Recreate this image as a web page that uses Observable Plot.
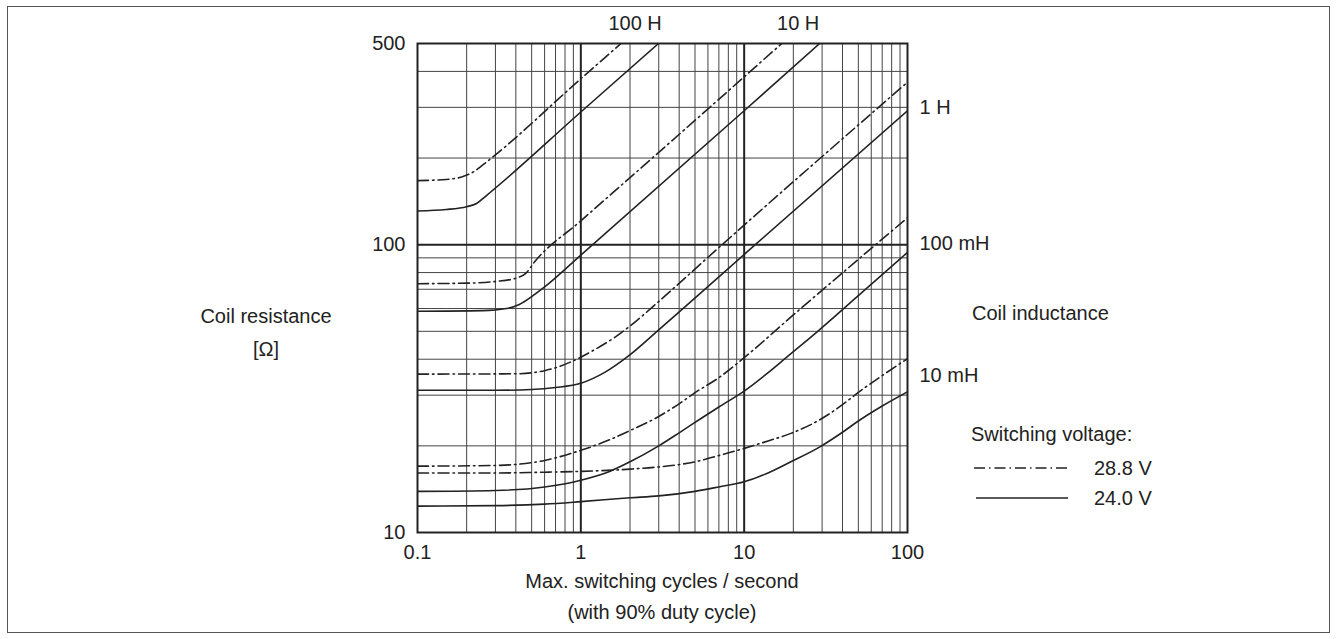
<!DOCTYPE html>
<html><head><meta charset="utf-8">
<script src="https://cdn.jsdelivr.net/npm/d3@7"></script>
<script src="https://cdn.jsdelivr.net/npm/@observablehq/plot@0.6"></script>
<style>
body{margin:0;background:#fff;font-family:"Liberation Sans",Arial,sans-serif;color:#222;}
#wrap{position:relative;width:1337px;height:639px;overflow:hidden;background:#fff;}
#border{position:absolute;left:7px;top:6px;width:1323px;height:627px;border:1px solid #555;box-sizing:border-box;}
#chart{position:absolute;left:0;top:0;}
.t{position:absolute;font-size:20px;white-space:nowrap;line-height:1;}
.c{transform:translate(-50%,-50%);}
.l{transform:translate(0,-50%);}
</style></head><body>
<div id="wrap">
<div id="border"></div>
<div id="chart"></div>
<div class="t c" style="left:266px;top:316px">Coil resistance</div>
<div class="t c" style="left:266px;top:349px">[Ω]</div>
<div class="t l" style="left:972px;top:313px">Coil inductance</div>
<div class="t c" style="left:662px;top:581px">Max. switching cycles / second</div>
<div class="t c" style="left:662px;top:612px">(with 90% duty cycle)</div>
<div class="t l" style="left:971px;top:434px">Switching voltage:</div>
<svg style="position:absolute;left:970px;top:455px" width="110" height="60">
  <line x1="4" y1="13" x2="97" y2="13" stroke="#222" stroke-width="1.6" stroke-dasharray="11,4,1.5,4"/>
  <line x1="6" y1="43" x2="98" y2="43" stroke="#222" stroke-width="1.6"/>
</svg>
<div class="t l" id="v1" style="left:1094px;top:468px"></div>
<div class="t l" id="v2" style="left:1094px;top:498px"></div>
</div>
<script>
// ---- axis ticks ----
const xTicks = [0.1, 1, 10, 100];
const yTicks = [10, 100, 500];
const xMinor = [0.2,0.3,0.4,0.5,0.6,0.7,0.8,0.9, 2,3,4,5,6,7,8,9, 20,30,40,50,60,70,80,90];
const yMinor = [20,30,40,50,60,70,80,90, 200,300,400];
const xMajor = [1, 10];
const yMajor = [100];

const voltages = ["28.8 V", "24.0 V"];
const inductances = ["100 H", "10 H", "1 H", "100 mH", "10 mH"];

// ---- curves: [switching cycles/s, coil resistance Ω] ----
const c100H_288 = [[0.1,167],[0.15,168.5],[0.19,172.5],[0.22,179],[0.25,189],[1,377],[1.76,500]];
const c100H_240 = [[0.1,131],[0.15,132.5],[0.2,135.5],[0.23,139],[0.26,147],[1,289],[2.99,500]];
const c10H_288  = [[0.1,73.2],[0.2,73.5],[0.3,74.5],[0.4,76.5],[0.46,79.5],[0.52,87],[1,121],[2.85,204],[17,500]];
const c10H_240  = [[0.1,58.7],[0.25,59],[0.35,60],[0.42,62],[0.5,66],[0.6,71.3],[1,92],[10,292],[29,500]];
const c1H_288   = [[0.1,35.5],[0.4,35.6],[0.6,36.5],[0.9,39.5],[1.2,43],[1.6,47.5],[2.2,54.5],[3,63.5],[6.9,97],[100,367]];
const c1H_240   = [[0.1,31.2],[0.3,31.2],[0.5,31.4],[0.7,31.9],[1,33],[1.4,36],[1.95,41],[3,50.6],[11.7,100],[100,292]];
const c100mH_288 = [[0.1,17],[0.3,17.1],[0.6,17.8],[1,19.3],[1.5,21],[2,22.6],[3,25.3],[4,28],[5,30.6],[7,34.5],[10,40.5],[20,57],[47.8,87],[100,124]];
const c100mH_240 = [[0.1,13.9],[0.3,14],[0.6,14.4],[1,15.2],[1.5,16.3],[2,17.6],[3,20],[4,22.2],[5.5,25],[7,27.3],[10,31],[20,42.5],[28.2,50],[50,66.5],[100,94]];
const c10mH_288 = [[0.1,16.1],[0.3,16.1],[0.6,16.2],[1,16.3],[2,16.6],[3,16.9],[5,17.6],[7,18.5],[10,19.6],[14,20.8],[19.3,22.1],[28.9,24.6],[40,27.8],[50.5,30.8],[68,34.7],[100,40.2]];
const c10mH_240 = [[0.1,12.35],[0.3,12.4],[0.6,12.55],[1,12.8],[2,13.2],[3,13.4],[5,13.9],[7,14.4],[10,15],[14,16.1],[19.3,17.6],[28.9,19.8],[40,22.3],[49,24.2],[70,27.5],[100,30.8]];

// label anchors
const topLabels = [{label:"100 H", x:2.15}, {label:"10 H", x:21.4}];
const rightLabels = [{label:"1 H", R:300}, {label:"100 mH", R:101}, {label:"10 mH", R:35}];

const series = [
  ["100 H", voltages[0], c100H_288], ["100 H", voltages[1], c100H_240],
  ["10 H", voltages[0], c10H_288],   ["10 H", voltages[1], c10H_240],
  ["1 H", voltages[0], c1H_288],     ["1 H", voltages[1], c1H_240],
  ["100 mH", voltages[0], c100mH_288], ["100 mH", voltages[1], c100mH_240],
  ["10 mH", voltages[0], c10mH_288], ["10 mH", voltages[1], c10mH_240]
];
const rows = series.flatMap(([L, V, pts]) => pts.map(([x, R]) => ({L, V, x, R})));

document.getElementById("v1").textContent = voltages[0];
document.getElementById("v2").textContent = voltages[1];

const ink = "#222";
const chart = Plot.plot({
  width: 1337, height: 639,
  marginLeft: 417, marginRight: 430, marginTop: 43, marginBottom: 107,
  style: {fontFamily: '"Liberation Sans", Arial, sans-serif', fontSize: "20px", color: ink, background: "transparent", overflow: "visible"},
  x: {type: "log", domain: [0.1, 100], ticks: xTicks, tickFormat: d => String(d), tickSize: 0, tickPadding: 12, label: null},
  y: {type: "log", domain: [10, 500], ticks: yTicks, tickFormat: d => String(d), tickSize: 0, tickPadding: 12, label: null},
  marks: [
    Plot.ruleX(xMinor, {stroke: "#444", strokeWidth: 1}),
    Plot.ruleY(yMinor, {stroke: "#444", strokeWidth: 1}),
    Plot.ruleX(xMajor, {stroke: ink, strokeWidth: 2}),
    Plot.ruleY(yMajor, {stroke: ink, strokeWidth: 2}),
    Plot.frame({stroke: ink, strokeWidth: 2}),
    Plot.line(rows.filter(d => d.V === voltages[0]), {x: "x", y: "R", z: "L", stroke: ink, strokeWidth: 1.6, strokeDasharray: "11,4,1.5,4", curve: "monotone-x", clip: true}),
    Plot.line(rows.filter(d => d.V === voltages[1]), {x: "x", y: "R", z: "L", stroke: ink, strokeWidth: 1.6, curve: "monotone-x", clip: true}),
    Plot.text(topLabels, {x: "x", frameAnchor: "top", lineAnchor: "middle", text: "label", dy: -20, fill: ink, fontSize: 20}),
    Plot.text(rightLabels, {y: "R", frameAnchor: "right", text: "label", dx: 12, textAnchor: "start", fill: ink, fontSize: 20})
  ]
});
document.getElementById("chart").appendChild(chart);
</script>
</body></html>
